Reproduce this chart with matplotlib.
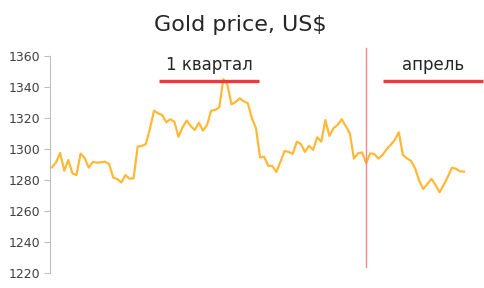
import matplotlib.pyplot as plt

# daily gold price, Q1 + April
prices = [1288.2, 1291.4, 1297.4, 1286.0, 1292.9, 1284.3, 1283.2, 1297.0, 1294.2, 1288.0,
          1291.6, 1291.2, 1291.4, 1291.8, 1290.3, 1281.6, 1280.6, 1278.4, 1283.2, 1280.8,
          1281.1, 1301.6, 1301.9, 1303.2, 1313.0, 1324.7, 1323.0, 1321.9, 1317.2, 1319.2,
          1317.6, 1307.9, 1314.0, 1318.3, 1314.8, 1312.3, 1317.0, 1311.8, 1315.5, 1324.7,
          1325.2, 1326.9, 1345.0, 1341.3, 1328.8, 1330.3, 1332.7, 1330.8, 1329.5, 1319.8,
          1313.4, 1294.6, 1295.0, 1289.2, 1289.0, 1285.2, 1291.8, 1298.7, 1298.1, 1296.8,
          1304.7, 1303.2, 1298.1, 1302.1, 1299.4, 1307.5, 1304.7, 1318.7, 1308.4, 1313.4,
          1315.5, 1319.2, 1314.8, 1310.1, 1293.8, 1297.2, 1297.8, 1290.8, 1297.2, 1296.8,
          1293.8, 1296.1, 1299.8, 1302.6, 1305.8, 1310.8, 1296.1, 1294.0, 1292.3, 1287.5,
          1279.5, 1274.2, 1277.4, 1280.8, 1276.8, 1272.1, 1276.8, 1282.1, 1287.9, 1287.3,
          1285.6, 1285.4]
y_ticks = [1220, 1240, 1260, 1280, 1300, 1320, 1340, 1360]
days = list(range(len(prices)))

q1_end = 77          # index where april starts
q1_label = "1 квартал"
apr_label = "апрель"

plt.rcParams['font.family'] = ['DejaVu Sans']

W, H = 484, 288
fig = plt.figure(figsize=(W / 100, H / 100), dpi=100)
ax = fig.add_axes([50 / W, 1 - 273 / H, 420 / W, 217 / H])

ax.plot(days, prices, color='#FFB936', linewidth=1.6, solid_joinstyle='round')

ax.set_ylim(1220, 1360)
ax.set_xlim(-0.49, 102.45)
ax.set_yticks(y_ticks)
ax.set_xticks([])
ax.tick_params(axis='y', labelsize=9, colors='#BFBFBF', labelcolor='#404040',
               length=4, width=0.8, pad=3)
for s in ['top', 'right', 'bottom']:
    ax.spines[s].set_visible(False)
ax.spines['left'].set_color('#BFBFBF')
ax.spines['left'].set_linewidth(0.8)

# quarter marker and labels
ax.plot([q1_end, q1_end], [1365, 1224], color='#F4898A', linewidth=1, clip_on=False)
ax.plot([26.2, 50.7], [1344, 1344], color='#F0393C', linewidth=2.4, clip_on=False,
        solid_capstyle='butt')
ax.plot([81.1, 105.6], [1344, 1344], color='#F0393C', linewidth=2.4, clip_on=False,
        solid_capstyle='butt')
ax.text(38.5, 1348.5, q1_label, ha='center', va='bottom', fontsize=12, color='#262626')
ax.text(93.5, 1348.5, apr_label, ha='center', va='bottom', fontsize=12, color='#262626')

fig.text(240 / W, 1 - 25 / H, "Gold price, US$", ha='center', va='center',
         fontsize=16, color='#262626')

fig.savefig('out.png', dpi=100, facecolor='white')
